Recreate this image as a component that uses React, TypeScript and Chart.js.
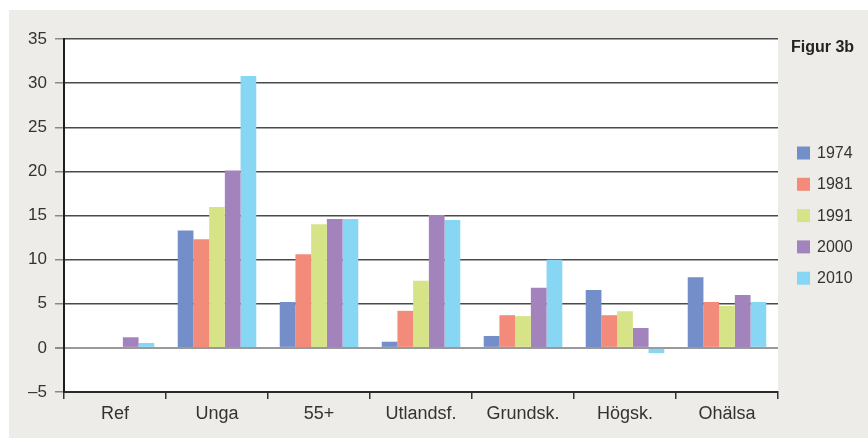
import React, { useEffect, useRef } from "react";
import { Chart, registerables } from "chart.js";

Chart.register(...registerables);

const categories = ["Ref", "Unga", "55+", "Utlandsf.", "Grundsk.", "Högsk.", "Ohälsa"];
const seriesLabels = ["1974", "1981", "1991", "2000", "2010"];
const v1974 = [0, 13.3, 5.2, 0.7, 1.35, 6.55, 8.0];
const v1981 = [0, 12.3, 10.6, 4.2, 3.7, 3.7, 5.2];
const v1991 = [0, 15.95, 14.0, 7.6, 3.6, 4.15, 4.75];
const v2000 = [1.2, 20.1, 14.6, 15.05, 6.8, 2.25, 6.0];
const v2010 = [0.55, 30.8, 14.6, 14.5, 10.0, -0.6, 5.2];
const seriesValues = [v1974, v1981, v1991, v2000, v2010];
const seriesColors = ["#738ec9", "#f28b7a", "#d7e387", "#a383bc", "#87d6f3"];
const yMin = -5;
const yMax = 35;
const yStep = 5;
const figureLabel = "Figur 3b";

const FONT = "'Liberation Sans', Arial, sans-serif";
const TEXT = "#333333";

const plotBgPlugin = {
  id: "plotBg",
  beforeDraw(chart: any) {
    const { ctx, chartArea } = chart;
    ctx.save();
    ctx.fillStyle = "#ffffff";
    ctx.fillRect(chartArea.left, chartArea.top, chartArea.right - chartArea.left, chartArea.bottom - chartArea.top);
    ctx.restore();
  },
};

const sideLegendPlugin = {
  id: "sideLegend",
  afterDraw(chart: any) {
    const { ctx, chartArea } = chart;
    ctx.save();
    // figure label
    ctx.font = `bold 16px ${FONT}`;
    ctx.fillStyle = "#232323";
    ctx.textAlign = "left";
    ctx.textBaseline = "middle";
    ctx.fillText(figureLabel, chartArea.right + 13, chartArea.top + 8.5);
    // legend items
    ctx.font = `16px ${FONT}`;
    const boxX = chartArea.right + 19;
    const firstY = chartArea.top + 114;
    const step = 31.3;
    chart.data.datasets.forEach((ds: any, i: number) => {
      const cy = firstY + i * step;
      ctx.fillStyle = ds.backgroundColor;
      ctx.fillRect(boxX, cy - 6.5, 13, 13);
      ctx.fillStyle = TEXT;
      ctx.fillText(ds.label, boxX + 20, cy + 0.5);
    });
    ctx.restore();
  },
};

export default function App() {
  const canvasRef = useRef<HTMLCanvasElement | null>(null);

  useEffect(() => {
    if (!canvasRef.current) return;
    const chart = new Chart(canvasRef.current, {
      type: "bar",
      data: {
        labels: categories,
        datasets: seriesLabels.map((label, i) => ({
          label,
          data: seriesValues[i],
          backgroundColor: seriesColors[i],
          borderWidth: 0,
          categoryPercentage: 0.77,
          barPercentage: 1.0,
        })),
      },
      options: {
        responsive: false,
        animation: false,
        devicePixelRatio: 1,
        layout: { padding: { left: 0, top: 29, right: 90, bottom: 0 } },
        plugins: {
          legend: { display: false },
          tooltip: { enabled: false },
          title: { display: false },
        },
        scales: {
          x: {
            afterFit(scale: any) {
              scale.height = 46;
            },
            grid: {
              display: true,
              drawOnChartArea: false,
              drawTicks: true,
              tickLength: 7,
              offset: true,
              color: "#333333",
              lineWidth: 1.5,
            },
            border: { display: true, color: "#2b2b2b", width: 2 },
            ticks: {
              color: TEXT,
              font: { family: FONT, size: 18 },
              padding: 4,
              maxRotation: 0,
              autoSkip: false,
            },
          },
          y: {
            min: yMin,
            max: yMax,
            afterFit(scale: any) {
              scale.width = 55;
            },
            grid: {
              color: (c: any) => (c.tick && c.tick.value === 0 ? "#9a9a9a" : "#4a4a4a"),
              lineWidth: (c: any) => (c.tick && c.tick.value === 0 ? 2 : 1.5),
              tickColor: "#8a8a8a",
              tickLength: 9,
              drawTicks: true,
            },
            border: { display: true, color: "#1e1e1e", width: 2 },
            ticks: {
              stepSize: yStep,
              color: TEXT,
              font: { family: FONT, size: 17 },
              padding: 8,
              callback: (v: any) => (Number(v) < 0 ? "\u2013" + Math.abs(Number(v)) : String(v)),
            },
          },
        },
      },
      plugins: [plotBgPlugin, sideLegendPlugin],
    });
    return () => chart.destroy();
  }, []);

  return (
    <div
      style={{
        position: "fixed",
        left: 9,
        top: 10,
        width: 859,
        height: 428,
        background: "#eeece8",
      }}
    >
      <canvas ref={canvasRef} width={859} height={428} style={{ display: "block", width: 859, height: 428 }} />
    </div>
  );
}
